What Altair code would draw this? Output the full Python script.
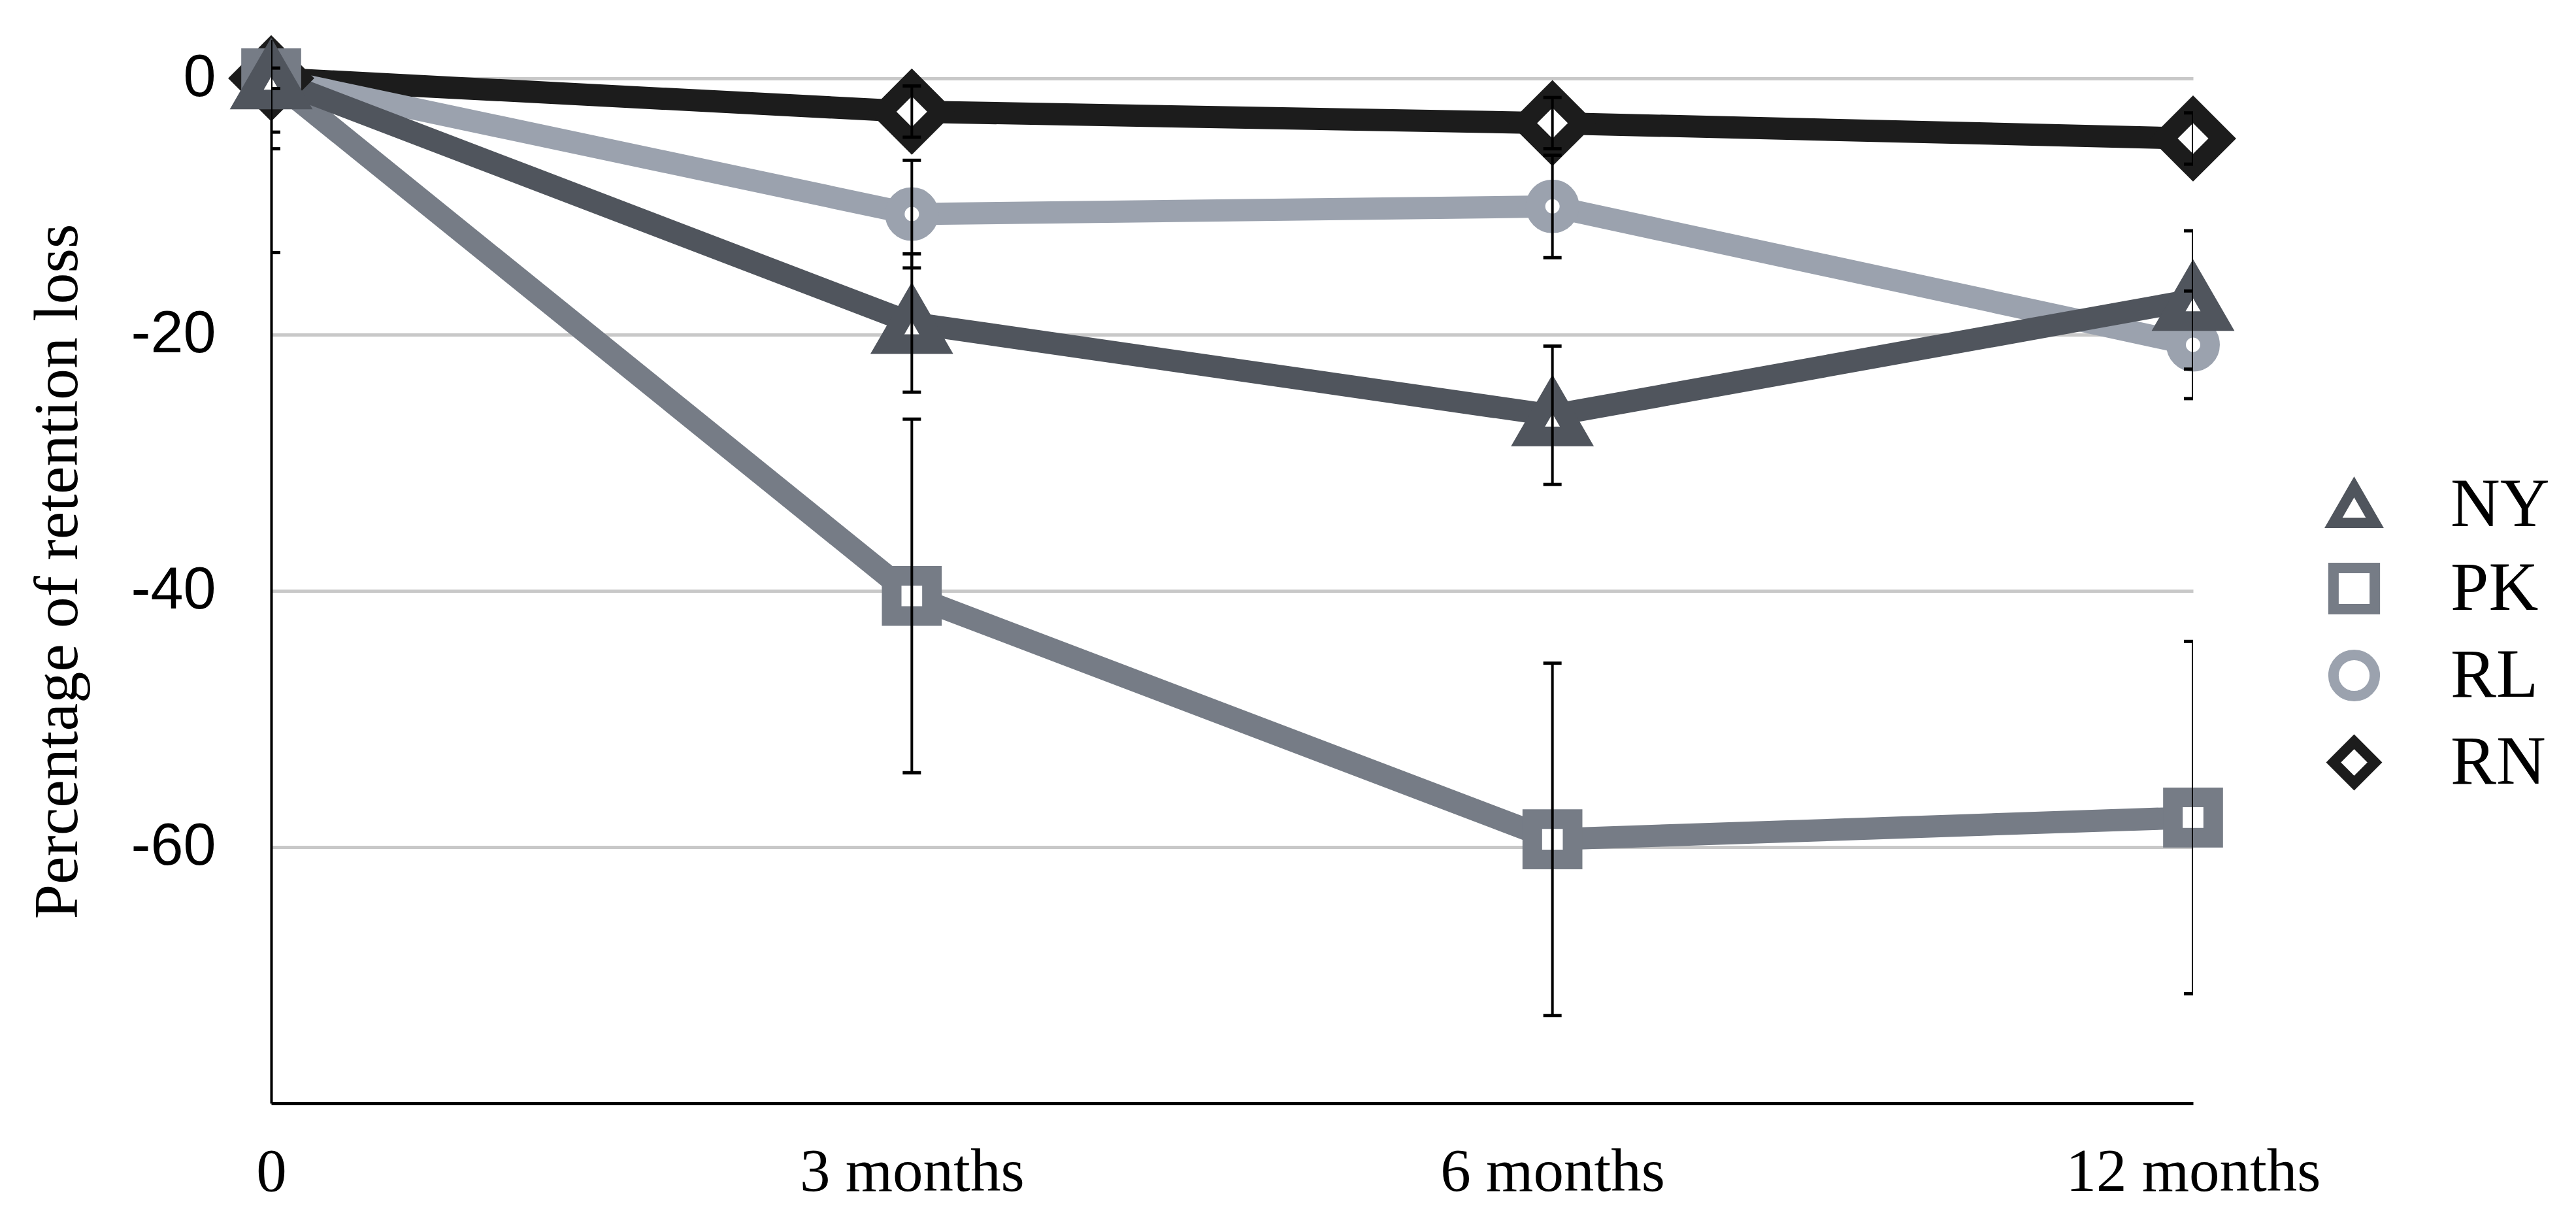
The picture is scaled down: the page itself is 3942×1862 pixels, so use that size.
import altair as alt
import pandas as pd

times = ["0", "3 months", "6 months", "12 months"]
groups = ["NY", "PK", "RL", "RN"]
ny = [0, -19.1, -26.3, -17.3]
pk = [0, -40.4, -59.4, -57.7]
rl = [0, -10.6, -10.0, -20.8]
rn = [0, -2.6, -3.5, -4.7]
ny_err = [5.5, 5.4, 5.4, 5.4]
pk_err = [13.6, 13.8, 13.75, 13.75]
rl_err = [4.2, 4.2, 4.0, 4.2]
rn_err = [0.8, 2.0, 2.0, 2.0]
colors = ["#50555d", "#767c86", "#9ba2ae", "#1c1c1c"]
shapes = ["triangle-up", "square", "circle", "diamond"]
sizes = [5600, 3800, 2700, 8000]
y_ticks = [0, -20, -40, -60]

series = {"NY": (ny, ny_err), "PK": (pk, pk_err), "RL": (rl, rl_err), "RN": (rn, rn_err)}
color_of = dict(zip(groups, colors))
size_of = dict(zip(groups, sizes))
draw_order = ["RN", "RL", "PK", "NY"]
rows = []
for g in draw_order:
    vals, errs = series[g]
    for i, (t, v, e) in enumerate(zip(times, vals, errs)):
        rows.append({"group": g, "time": t, "idx": i, "value": v, "err": e})
df = pd.DataFrame(rows)

x_enc = alt.X(
    "time:N", sort=times,
    scale=alt.Scale(type="point", padding=0),
    axis=alt.Axis(title=None, labelAngle=0, labelFont="Liberation Serif", labelFontSize=93,
                  labelColor="black", labelPadding=60, labelLimit=0, ticks=False, tickSize=0,
                  domainColor="black", domainWidth=5, grid=False),
)
y_enc = alt.Y(
    "value:Q",
    scale=alt.Scale(domain=[-80, 3], nice=False, zero=False),
    axis=alt.Axis(values=y_ticks, title="Percentage of retention loss",
                  labelExpr="datum.value == 0 ? '0' : '-' + abs(datum.value)",
                  titleFont="Liberation Serif", titleFontSize=96, titleFontWeight="normal",
                  titleColor="black", titleX=-327, titleY=813, titleBaseline="middle",
                  titleAlign="center",
                  labelFont="Liberation Sans", labelFontSize=90, labelColor="black",
                  labelPadding=85, ticks=False, tickSize=0,
                  domainColor="black", domainWidth=4,
                  gridColor="#c8c8c8", gridWidth=5),
)

leg = alt.Legend(title=None, orient="none", legendX=3135, legendY=659, direction="vertical",
                 labelFont="Liberation Serif", labelFontSize=105, labelColor="black",
                 symbolSize=4000, symbolStrokeWidth=16, labelLimit=0,
                 rowPadding=4, labelOffset=95, padding=0)

color_enc = alt.Color("group:N", scale=alt.Scale(domain=groups, range=colors), legend=leg)
shape_enc = alt.Shape("group:N", scale=alt.Scale(domain=groups, range=shapes), legend=leg)

base = alt.Chart(df)

line_layers = []
for g in draw_order:
    line_layers.append(
        base.transform_filter(alt.datum.group == g)
        .mark_line(strokeWidth=34, color=color_of[g])
        .encode(x=x_enc, y=y_enc, order=alt.Order("idx:Q"))
    )

point_layers = []
for g in draw_order:
    point_layers.append(
        base.transform_filter(alt.datum.group == g)
        .mark_point(filled=False, fill="white", strokeWidth=30, opacity=1, size=size_of[g])
        .encode(x=x_enc, y=y_enc, color=color_enc, shape=shape_enc)
    )

err_base = base.transform_calculate(lo="datum.value - datum.err", hi="datum.value + datum.err")
rules = err_base.mark_rule(color="black", strokeWidth=4, clip=True).encode(
    x=alt.X("time:N", sort=times), y=alt.Y("lo:Q"), y2="hi:Q"
)
cap_lo = err_base.mark_tick(orient="horizontal", color="black", thickness=5, size=28, clip=True, opacity=1).encode(
    x=alt.X("time:N", sort=times), y=alt.Y("lo:Q")
)
cap_hi = err_base.mark_tick(orient="horizontal", color="black", thickness=5, size=28, clip=True, opacity=1).encode(
    x=alt.X("time:N", sort=times), y=alt.Y("hi:Q")
)

chart = alt.layer(*line_layers, *point_layers, rules, cap_lo, cap_hi).properties(
    width=2941, height=1627,
    padding={"left": 407, "top": 53, "right": 578, "bottom": 166},
    autosize=alt.AutoSizeParams(type="none"),
    background="white",
).configure_view(stroke="transparent")

chart.save("out.html", embed_options={"renderer": "svg", "actions": False})
